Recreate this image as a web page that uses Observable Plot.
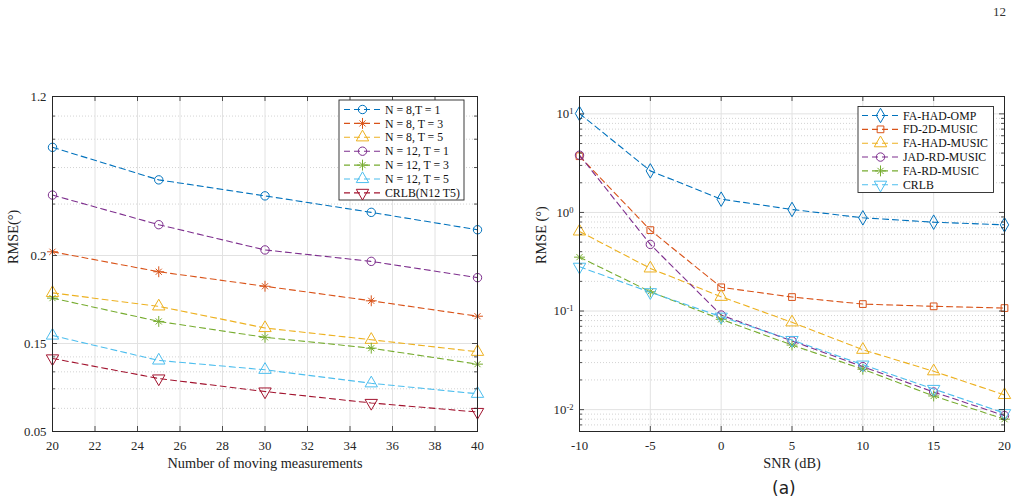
<!DOCTYPE html>
<html><head><meta charset="utf-8">
<script src="https://cdn.jsdelivr.net/npm/d3@7"></script>
<script src="https://cdn.jsdelivr.net/npm/@observablehq/plot@0.6"></script>
<style>
body{margin:0;background:#fff;}
#wrap{position:relative;width:1016px;height:501px;overflow:hidden;background:#fff;font-family:"Liberation Serif",serif;}
#wrap svg{position:absolute;top:0;}
#wrap svg text{font-family:"Liberation Serif",serif;}
#pageno{position:absolute;left:993px;top:4px;font-family:"Liberation Serif",serif;font-size:13px;color:#333;}
#caption{position:absolute;left:772px;top:478px;font-family:"DejaVu Sans",sans-serif;font-size:17px;color:#222;}
</style>
</head><body>
<div id="wrap"><div id="pageno">12</div><div id="caption">(a)</div></div>
<script>
// ---------- Left panel data ----------
const measurements = [20, 25, 30, 35, 40];
const leftNames = ["N = 8,T = 1", "N = 8, T = 3", "N = 8, T = 5", "N = 12, T = 1", "N = 12, T = 3", "N = 12, T = 5", "CRLB(N12 T5)"];
const rmseN8T1  = [0.469, 0.363, 0.320, 0.281, 0.245];
const rmseN8T3  = [0.206, 0.176, 0.157, 0.140, 0.124];
const rmseN8T5  = [0.149, 0.134, 0.113, 0.103, 0.0937];
const rmseN12T1 = [0.322, 0.255, 0.209, 0.191, 0.168];
const rmseN12T3 = [0.143, 0.119, 0.105, 0.0964, 0.085];
const rmseN12T5 = [0.1065, 0.0875, 0.0813, 0.0731, 0.0673];
const rmseCRLB12T5 = [0.0889, 0.0759, 0.0685, 0.0626, 0.0583];
const leftXTicks = [20, 22, 24, 26, 28, 30, 32, 34, 36, 38, 40];
const leftYTickValues = [0.05, 0.1, 0.2, 0.7];
const leftYTickLabels = ["0.05", "0.15", "0.2", "1.2"];
const leftYMinor = [0.06, 0.07, 0.08, 0.09, 0.3, 0.4, 0.5, 0.6];

// ---------- Right panel data ----------
const snr = [-10, -5, 0, 5, 10, 15, 20];
const rightNames = ["FA-HAD-OMP", "FD-2D-MUSIC", "FA-HAD-MUSIC", "JAD-RD-MUSIC", "FA-RD-MUSIC", "CRLB"];
const rmseOMP   = [10.07, 2.64, 1.364, 1.072, 0.882, 0.797, 0.749];
const rmseFD2D  = [3.72, 0.662, 0.174, 0.1386, 0.1177, 0.1116, 0.1072];
const rmseFAHAD = [0.642, 0.2708, 0.1396, 0.0768, 0.0405, 0.0245, 0.0141];
const rmseJAD   = [3.81, 0.474, 0.0911, 0.0497, 0.0273, 0.0151, 0.00869];
const rmseFARD  = [0.352, 0.1569, 0.0824, 0.0452, 0.0257, 0.01376, 0.0080];
const rmseCRLB  = [0.281, 0.155, 0.0876, 0.0508, 0.0286, 0.0162, 0.0092];
const rightXTicks = [-10, -5, 0, 5, 10, 15, 20];
const rightYTickValues = [0.01, 0.1, 1, 10];
const rightYTickExps = ["-2", "-1", "0", "1"];

// ---------- styles ----------
const COL = {blue:"#0072BD", orange:"#D95319", yellow:"#EDB120", purple:"#7E2F8E", green:"#77AC30", cyan:"#4DBEEE", red:"#A2142F"};
const AX = "#262626";
const DASH = "6,4";
const FONT = "Liberation Serif";

const leftSeries = [
  {name: leftNames[0], y: rmseN8T1,  color: COL.blue,   marker: "circle"},
  {name: leftNames[1], y: rmseN8T3,  color: COL.orange, marker: "star8"},
  {name: leftNames[2], y: rmseN8T5,  color: COL.yellow, marker: "triangle"},
  {name: leftNames[3], y: rmseN12T1, color: COL.purple, marker: "circle"},
  {name: leftNames[4], y: rmseN12T3, color: COL.green,  marker: "star8"},
  {name: leftNames[5], y: rmseN12T5, color: COL.cyan,   marker: "triangle"},
  {name: leftNames[6], y: rmseCRLB12T5, color: COL.red, marker: "triangleDown"}
];
const rightSeries = [
  {name: rightNames[0], y: rmseOMP,   color: COL.blue,   marker: "diamond"},
  {name: rightNames[1], y: rmseFD2D,  color: COL.orange, marker: "square"},
  {name: rightNames[2], y: rmseFAHAD, color: COL.yellow, marker: "triangle"},
  {name: rightNames[3], y: rmseJAD,   color: COL.purple, marker: "circle"},
  {name: rightNames[4], y: rmseFARD,  color: COL.green,  marker: "star8"},
  {name: rightNames[5], y: rmseCRLB,  color: COL.cyan,   marker: "triangleDown"}
];

const markerSize = {circle: 4.2, triangle: 4.6, triangleDown: 4.6, square: 3.8, diamond: 4.4, star8: 3.6};

function markerMarks(rows, color, marker) {
  const base = {x: "x", y: "y", stroke: color, fill: "none", strokeWidth: 1};
  const r = markerSize[marker];
  if (marker === "star8") return [
    Plot.dot(rows, {...base, symbol: "plus", r}),
    Plot.dot(rows, {...base, symbol: "times", r: r * 0.8})
  ];
  if (marker === "triangleDown") return [Plot.dot(rows, {...base, symbol: "triangle", r, rotate: 180})];
  return [Plot.dot(rows, {...base, symbol: marker, r})];
}

function panel(cfg) {
  const H = 501, mt = 96, mb = 70;
  const fw = cfg.width - cfg.ml - cfg.mr, fh = H - mt - mb;
  const marks = [];
  // grid
  marks.push(Plot.ruleY(cfg.minorY, {y: d => d, stroke: "#c8c8c8", strokeDasharray: "1,2", strokeWidth: 0.8}));
  marks.push(Plot.ruleX(cfg.xTicks.slice(1, -1), {x: d => d, stroke: "#e2e2e2", strokeWidth: 1}));
  marks.push(Plot.ruleY(cfg.majorY, {y: d => d, stroke: "#e2e2e2", strokeWidth: 1}));
  // series
  for (const s of cfg.series) {
    const rows = cfg.xs.map((x, i) => ({x, y: s.y[i]}));
    marks.push(Plot.line(rows, {x: "x", y: "y", stroke: s.color, strokeWidth: 1.1, strokeDasharray: DASH}));
    marks.push(...markerMarks(rows, s.color, s.marker));
  }
  // inward ticks
  const tk = {stroke: AX, strokeWidth: 0.8};
  marks.push(Plot.tickX(cfg.xTicks, {x: d => d, insetTop: fh - 5, ...tk}));
  marks.push(Plot.tickX(cfg.xTicks, {x: d => d, insetBottom: fh - 5, ...tk}));
  marks.push(Plot.tickY(cfg.majorTicksY, {y: d => d, insetRight: fw - 5, ...tk}));
  marks.push(Plot.tickY(cfg.majorTicksY, {y: d => d, insetLeft: fw - 5, ...tk}));
  marks.push(Plot.tickY(cfg.minorY, {y: d => d, insetRight: fw - 3, ...tk}));
  marks.push(Plot.tickY(cfg.minorY, {y: d => d, insetLeft: fw - 3, ...tk}));
  marks.push(Plot.frame({stroke: AX, strokeWidth: 1}));
  // axes
  marks.push(Plot.axisX(cfg.xTicks, {tickSize: 0, tickPadding: 9, tickFormat: d => String(d), fontSize: 12.8, fontFamily: FONT, fill: AX, label: null}));
  marks.push(Plot.axisY(cfg.majorTicksY, {tickSize: 0, tickPadding: 6, tickFormat: cfg.yFormat, fontSize: 12.8, fontFamily: FONT, fill: AX, label: null}));
  // axis titles
  marks.push(Plot.text([cfg.xLabel], {frameAnchor: "bottom", dy: 32, fontSize: 14.3, fontFamily: FONT, fill: "#222", lineAnchor: "middle"}));
  marks.push(Plot.text([cfg.yLabel], {frameAnchor: "left", dx: cfg.yLabelDx, rotate: -90, fontSize: 14.3, fontFamily: FONT, fill: "#222", lineAnchor: "middle"}));

  const svg = Plot.plot({
    width: cfg.width, height: H,
    marginLeft: cfg.ml, marginRight: cfg.mr, marginTop: mt, marginBottom: mb,
    style: {fontFamily: "'Liberation Serif', serif", fontSize: "12px", background: "transparent", overflow: "visible"},
    x: {domain: cfg.xDomain, axis: null},
    y: {type: "log", domain: cfg.yDomain, axis: null},
    marks
  });
  svg.style.left = cfg.left + "px";
  d3.select(svg).selectAll("g").attr("font-family", FONT);
  return svg;
}

function symPath(marker, r) {
  const area = Math.PI * r * r;
  if (marker === "circle") return [d3.symbol(d3.symbolCircle, area)()];
  if (marker === "triangle" || marker === "triangleDown") return [d3.symbol(d3.symbolTriangle, area)()];
  if (marker === "square") return [d3.symbol(d3.symbolSquare, area)()];
  if (marker === "diamond") return [d3.symbol(d3.symbolDiamond, area)()];
  if (marker === "star8") return [d3.symbol(d3.symbolPlus, area)(), d3.symbol(d3.symbolTimes, Math.PI * (r*0.8) * (r*0.8))()];
}

function legend(svg, series, box) {
  const g = d3.select(svg).append("g").attr("font-family", FONT).attr("text-anchor", "start");
  g.append("rect").attr("x", box.x0).attr("y", box.y0).attr("width", box.x1 - box.x0).attr("height", box.y1 - box.y0)
    .attr("fill", "white").attr("stroke", AX).attr("stroke-width", 0.9);
  series.forEach((s, i) => {
    const y = box.first + i * box.step;
    g.append("line").attr("x1", box.l0).attr("x2", box.l1).attr("y1", y).attr("y2", y)
      .attr("stroke", s.color).attr("stroke-width", 1.1).attr("stroke-dasharray", DASH);
    for (const p of symPath(s.marker, markerSize[s.marker])) {
      g.append("path").attr("d", p).attr("fill", "none").attr("stroke", s.color).attr("stroke-width", 1)
        .attr("transform", `translate(${(box.l0 + box.l1) / 2},${y})` + (s.marker === "triangleDown" ? " rotate(180)" : ""));
    }
    g.append("text").attr("x", box.tx).attr("y", y).attr("dy", "0.35em").attr("font-size", 11.8)
      .attr("text-anchor", "start").attr("fill", "#111").text(s.name);
  });
}

const wrap = document.getElementById("wrap");

const left = panel({
  left: 0, width: 508, ml: 52, mr: 31,
  xs: measurements, series: leftSeries,
  xDomain: [20, 40], yDomain: [0.05, 0.7],
  xTicks: leftXTicks, majorTicksY: leftYTickValues, majorY: [0.1, 0.2], minorY: leftYMinor,
  yFormat: d => leftYTickLabels[leftYTickValues.indexOf(d)],
  xLabel: "Number of moving measurements", yLabel: "RMSE(°)", yLabelDx: -39
});
wrap.appendChild(left);
legend(left, leftSeries, {x0: 339, x1: 464, y0: 100, y1: 200, first: 109.5, step: 13.9, l0: 344, l1: 381, tx: 385});

const right = panel({
  left: 508, width: 508, ml: 71, mr: 12,
  xs: snr, series: rightSeries,
  xDomain: [-10, 20], yDomain: [0.006, 15],
  xTicks: rightXTicks, majorTicksY: rightYTickValues, majorY: rightYTickValues,
  minorY: d3.range(-3, 2).flatMap(k => d3.range(2, 10).map(m => m * Math.pow(10, k))).filter(v => v > 0.006 && v < 15),
  yFormat: d => "10^" + rightYTickExps[rightYTickValues.indexOf(d)],
  xLabel: "SNR (dB)", yLabel: "RMSE (°)", yLabelDx: -38
});
wrap.appendChild(right);
legend(right, rightSeries, {x0: 350, x1: 485.5, y0: 106.5, y1: 192.5, first: 115.5, step: 13.85, l0: 354, l1: 391, tx: 395});

// superscript exponents for log tick labels
d3.select(right).selectAll("text").each(function() {
  const t = this.textContent;
  if (/^10\^/.test(t)) {
    const exp = t.slice(3);
    const el = d3.select(this);
    el.text("10");
    el.append("tspan").attr("dy", "-0.45em").attr("font-size", "8.5px").text(exp);
  }
});
</script>
</body></html>
